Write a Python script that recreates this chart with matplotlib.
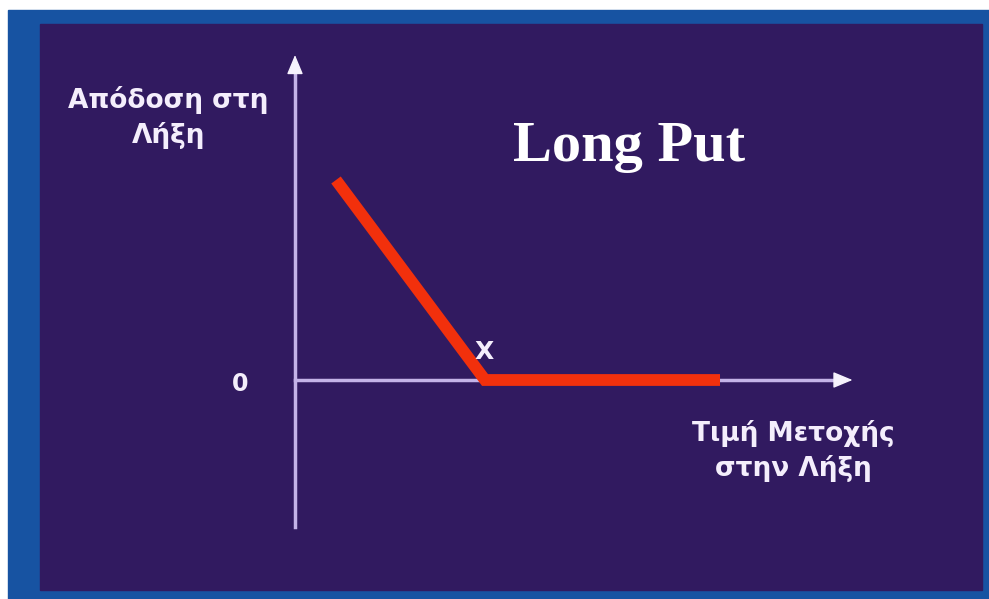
import matplotlib.pyplot as plt
from matplotlib.patches import Rectangle

# payoff of a long put at expiry (units: arbitrary, strike at X)
stock_price = [0.82, 3.8, 8.5]
payoff = [4.0, 0.0, 0.0]
strike = 3.8
x_axis_end = 11.15
y_axis_range = (-2.94, 6.5)

title = "Long Put"
y_label = "Απόδοση στη\nΛήξη"
x_label = "Τιμή Μετοχής\nστην Λήξη"
strike_label = "X"
zero_label = "0"

W, H = 989, 599
fig = plt.figure(figsize=(W / 100, H / 100), dpi=100)
fig.patch.set_facecolor("white")

# frame: blue border and purple panel
fig.patches.append(Rectangle((8 / W, 0), 1 - 8 / W, 1 - 10 / H,
                             transform=fig.transFigure, color="#1753a2", zorder=-2))
fig.patches.append(Rectangle((40 / W, 9 / H), 942 / W, 566 / H,
                             transform=fig.transFigure, color="#311a60", zorder=-1))

ax = fig.add_axes([0, 0, 1, 1])
ax.set_zorder(1)
ax.set_xlim(-295 / 50, (W - 295) / 50)
ax.set_ylim(-(H - 380) / 50, 380 / 50)
ax.axis("off")
ax.patch.set_alpha(0)

axis_col = "#c4b3e8"
head = dict(arrowstyle="-|>,head_length=1.2,head_width=0.5",
            color="#f6f2fd", lw=1, shrinkA=0, shrinkB=0)
ax.plot([0, x_axis_end - 0.2], [0, 0], color=axis_col, lw=2.5)
ax.plot([0, 0], [y_axis_range[0], y_axis_range[1] - 0.2], color=axis_col, lw=2.5)
ax.annotate("", xy=(x_axis_end, 0), xytext=(x_axis_end - 0.35, 0), arrowprops=head)
ax.annotate("", xy=(0, y_axis_range[1]), xytext=(0, y_axis_range[1] - 0.35),
            arrowprops=head)

ax.plot(stock_price, payoff, color="#f2300c", lw=8.5,
        solid_capstyle="butt", solid_joinstyle="miter", zorder=3)

txt = "#f4eefc"
ax.text(strike - 0.02, 0.56, strike_label, color=txt, fontsize=18,
        fontweight="bold", ha="center", va="center", zorder=4)
ax.text(-1.1, -0.08, zero_label, color=txt, fontsize=17,
        fontweight="bold", ha="center", va="center")
ax.text(-2.53, 5.25, y_label, color=txt, fontsize=19, fontweight="bold",
        ha="center", va="center", linespacing=1.35)
ax.text(9.96, -1.42, x_label, color=txt, fontsize=19, fontweight="bold",
        ha="center", va="center", linespacing=1.35)
ax.text(6.68, 4.66, title, color="white", fontsize=42, fontweight="bold",
        family="Liberation Serif", ha="center", va="center")

fig.savefig("out.png", dpi=100)
